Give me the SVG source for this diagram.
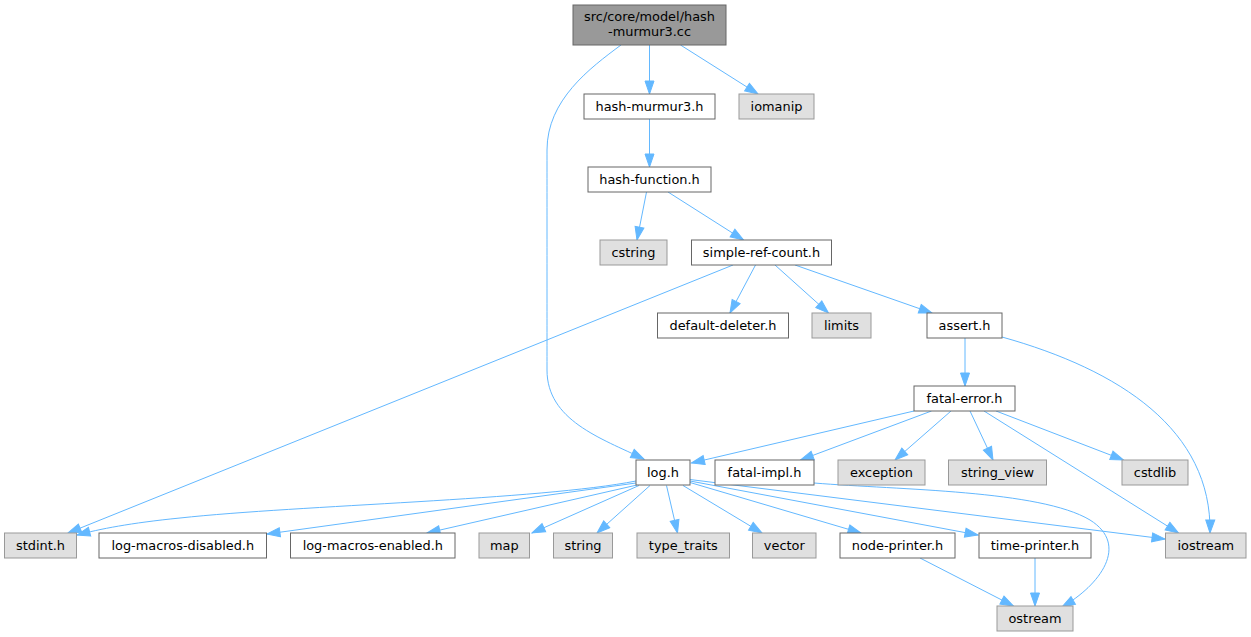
<svg xmlns="http://www.w3.org/2000/svg" width="1251" height="637" viewBox="0 0 1251 637">
<style>
.n rect{fill:#ffffff;stroke:#666666;stroke-width:1}
.g rect{fill:#e0e0e0;stroke:#999999;stroke-width:1}
.r rect{fill:#999999;stroke:#666666;stroke-width:1}
text{font-family:"DejaVu Sans","Liberation Sans",sans-serif;font-size:12.9px;fill:#000000;text-anchor:middle}
#edges path{fill:none;stroke:#63b8ff;stroke-width:1;marker-end:url(#ah)}
</style>
<defs>
<marker id="ah" markerUnits="userSpaceOnUse" markerWidth="16" markerHeight="12" refX="13.5" refY="5" orient="auto" overflow="visible">
<path d="M0.5,0.5 L13.5,5 L0.5,9.5 z" fill="#63b8ff" stroke="#63b8ff" stroke-width="1"/>
</marker>
</defs>
<rect width="1251" height="637" fill="#ffffff"/>
<g id="edges">
<path d="M649.5,45 L649.5,94"/>
<path d="M680.5,45 L758,94"/>
<path d="M621,45 C590,68 547,100 547,150 C547,200 547,330 547,370 C547,420 600,438 644,459"/>
<path d="M649.5,119 L649.5,167"/>
<path d="M646.5,192 L637,240"/>
<path d="M668,192 L743.5,240"/>
<path d="M733,265 L68,533"/>
<path d="M755.5,265 L730,313"/>
<path d="M775,265 L828.5,313"/>
<path d="M795,265 L932,313"/>
<path d="M965,338 L965,386"/>
<path d="M1002,337 C1120,370 1212,430 1210,533"/>
<path d="M914,411 L691.5,463"/>
<path d="M931.5,411 L800.5,460"/>
<path d="M951,411 L895,460"/>
<path d="M970,411 L993,460"/>
<path d="M984,411 L1178.5,533"/>
<path d="M996,411 L1123.5,460"/>
<path d="M814,483 C900,490 1040,490 1090,520 C1130,545 1100,585 1062,607"/>
<path d="M636,481 C540,500 300,505 180,518 C130,523 100,529 77,535"/>
<path d="M636,483 L267,534"/>
<path d="M637,485 L427,533"/>
<path d="M639,485.5 L532,533"/>
<path d="M650,485.5 L597,533"/>
<path d="M666.5,485.5 L677.5,533"/>
<path d="M683,485.5 L762,533"/>
<path d="M690,482.5 L861,533"/>
<path d="M690,481 L978,535"/>
<path d="M690,479.5 L1165,539"/>
<path d="M920,558 L1013.5,606"/>
<path d="M1035,558 L1035,606"/>
</g>
<g id="root" class="r"><rect x="573" y="5" width="153" height="40"/><text x="649.5" y="21">src/core/model/hash</text><text x="649.5" y="36">-murmur3.cc</text></g>
<g id="hash-murmur3_h" class="n"><rect x="584" y="94" width="131" height="25"/><text x="649.5" y="110.7">hash-murmur3.h</text></g>
<g id="iomanip" class="g"><rect x="739" y="94" width="75" height="25"/><text x="776.5" y="110.7">iomanip</text></g>
<g id="hash-function_h" class="n"><rect x="588" y="167" width="123" height="25"/><text x="649.5" y="183.7">hash-function.h</text></g>
<g id="cstring" class="g"><rect x="600" y="240" width="67" height="25"/><text x="633.5" y="256.7">cstring</text></g>
<g id="simple-ref-count_h" class="n"><rect x="691.5" y="240" width="140" height="25"/><text x="761.5" y="256.7">simple-ref-count.h</text></g>
<g id="default-deleter_h" class="n"><rect x="657.5" y="313" width="131" height="25"/><text x="723" y="329.7">default-deleter.h</text></g>
<g id="limits" class="g"><rect x="812" y="313" width="59" height="25"/><text x="841.5" y="329.7">limits</text></g>
<g id="assert_h" class="n"><rect x="927" y="313" width="75" height="25"/><text x="964.5" y="329.7">assert.h</text></g>
<g id="fatal-error_h" class="n"><rect x="914" y="386" width="101" height="25"/><text x="964.5" y="402.7">fatal-error.h</text></g>
<g id="log_h" class="n"><rect x="636" y="460" width="54" height="25"/><text x="663" y="476.7">log.h</text></g>
<g id="fatal-impl_h" class="n"><rect x="715" y="460" width="99" height="25"/><text x="764.5" y="476.7">fatal-impl.h</text></g>
<g id="exception" class="g"><rect x="838" y="460" width="87" height="25"/><text x="881.5" y="476.7">exception</text></g>
<g id="string_view" class="g"><rect x="948.5" y="460" width="98" height="25"/><text x="997.5" y="476.7">string_view</text></g>
<g id="cstdlib" class="g"><rect x="1122" y="460" width="66" height="25"/><text x="1155" y="476.7">cstdlib</text></g>
<g id="stdint_h" class="g"><rect x="4.5" y="533" width="72" height="25"/><text x="40.5" y="549.7">stdint.h</text></g>
<g id="log-macros-disabled_h" class="n"><rect x="99" y="533" width="167.5" height="25"/><text x="182.8" y="549.7">log-macros-disabled.h</text></g>
<g id="log-macros-enabled_h" class="n"><rect x="290.5" y="533" width="164.5" height="25"/><text x="372.8" y="549.7">log-macros-enabled.h</text></g>
<g id="map" class="g"><rect x="479" y="533" width="50.5" height="25"/><text x="504.3" y="549.7">map</text></g>
<g id="string" class="g"><rect x="553.5" y="533" width="59" height="25"/><text x="583" y="549.7">string</text></g>
<g id="type_traits" class="g"><rect x="637" y="533" width="92.5" height="25"/><text x="683.3" y="549.7">type_traits</text></g>
<g id="vector" class="g"><rect x="752.5" y="533" width="63.5" height="25"/><text x="784.3" y="549.7">vector</text></g>
<g id="node-printer_h" class="n"><rect x="840" y="533" width="115" height="25"/><text x="897.5" y="549.7">node-printer.h</text></g>
<g id="time-printer_h" class="n"><rect x="979" y="533" width="112" height="25"/><text x="1035" y="549.7">time-printer.h</text></g>
<g id="iostream" class="g"><rect x="1165.5" y="533" width="80.5" height="25"/><text x="1205.8" y="549.7">iostream</text></g>
<g id="ostream" class="g"><rect x="997" y="606" width="76" height="25"/><text x="1035" y="622.7">ostream</text></g>
</svg>
